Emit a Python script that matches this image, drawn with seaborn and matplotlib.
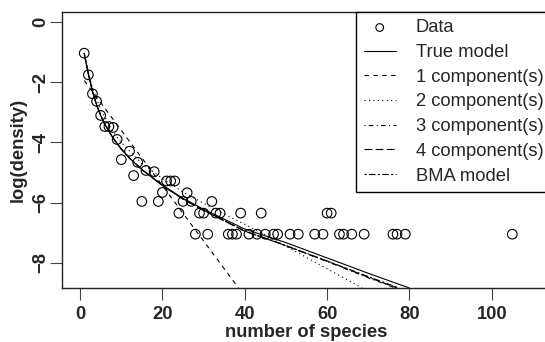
import matplotlib
matplotlib.use("Agg")
import matplotlib.pyplot as plt
import pandas as pd
import seaborn as sns

# observed data: number of species vs log(density)
species = [1, 2, 3, 4, 5, 6, 7, 8, 9, 10, 12, 13, 14, 15, 16, 18, 19, 20,
           21, 22, 23, 24, 25, 26, 27, 28, 29, 30, 31, 32, 33, 34, 36, 37,
           38, 39, 41, 43, 44, 45, 47, 48, 51, 53, 57, 59, 60, 61, 63, 64,
           66, 69, 76, 77, 79, 105]
log_density = [-1.03, -1.75, -2.38, -2.63, -3.10, -3.47, -3.47, -3.50, -3.90,
               -4.57, -4.29, -5.10, -4.66, -5.96, -4.93, -4.97, -5.96, -5.66,
               -5.28, -5.28, -5.28, -6.35, -5.96, -5.67, -5.96, -7.05, -6.35,
               -6.35, -7.05, -5.96, -6.35, -6.35, -7.05, -7.05, -7.05, -6.35,
               -7.05, -7.05, -6.35, -7.05, -7.05, -7.05, -7.05, -7.05, -7.05,
               -7.05, -6.35, -6.35, -7.05, -7.05, -7.05, -7.05, -7.05, -7.05,
               -7.05, -7.05]

# fitted curves
true_x = [1, 2, 3, 4, 5, 6, 8, 10, 12, 15, 20, 25, 30, 35, 40, 50, 60, 70, 80]
true_y = [-1.03, -1.72, -2.30, -2.75, -3.10, -3.40, -3.85, -4.22, -4.52, -4.90,
          -5.42, -5.86, -6.22, -6.55, -6.88, -7.33, -7.84, -8.35, -8.84]

comp1_x = [1, 38.5]
comp1_y = [-1.94, -8.84]

comp2_x = [1, 3, 5, 8, 10, 15, 20, 25, 30, 35, 40, 50, 60, 68.5]
comp2_y = [-1.10, -2.20, -2.90, -3.65, -4.00, -4.70, -5.20, -5.65, -6.02,
           -6.38, -6.72, -7.45, -8.20, -8.84]

comp3_x = [1, 2, 3, 4, 5, 6, 8, 10, 12, 15, 20, 25, 30, 40, 48.5, 60, 70, 76.5]
comp3_y = [-1.03, -1.72, -2.30, -2.75, -3.10, -3.40, -3.85, -4.22, -4.52, -4.90,
           -5.43, -5.88, -6.26, -6.95, -7.36, -7.96, -8.50, -8.84]

comp4_x = [1, 2, 3, 4, 5, 6, 8, 10, 12, 15, 20, 25, 30, 40, 48.5, 60, 70, 77]
comp4_y = [-1.03, -1.72, -2.30, -2.75, -3.10, -3.40, -3.85, -4.22, -4.52, -4.90,
           -5.43, -5.88, -6.26, -6.95, -7.36, -7.95, -8.48, -8.84]

bma_x = [1, 2, 3, 4, 5, 6, 8, 10, 12, 15, 20, 25, 30, 40, 48.5, 60, 70, 77.5]
bma_y = [-1.03, -1.72, -2.30, -2.75, -3.10, -3.40, -3.85, -4.22, -4.52, -4.90,
         -5.43, -5.88, -6.25, -6.94, -7.35, -7.94, -8.46, -8.84]

x_ticks = [0, 20, 40, 60, 80, 100]
y_ticks = [-8, -6, -4, -2, 0]

sns.set_style("ticks")
plt.rcParams["font.family"] = ["Liberation Sans", "DejaVu Sans"]
plt.rcParams["axes.unicode_minus"] = True

fig = plt.figure(figsize=(5.45, 3.42), dpi=100)
ax = fig.add_axes([62 / 545, 54 / 342, 489 / 545, 276 / 342])

obs = pd.DataFrame({"x": species, "y": log_density})
sns.scatterplot(data=obs, x="x", y="y", ax=ax, marker="o", s=48,
                facecolor="none", edgecolor="black", linewidth=0.8,
                label="Data", zorder=3)

curves = [
    (true_x, true_y, "True model", "-"),
    (comp1_x, comp1_y, "1 component(s)", (0, (4, 4))),
    (comp2_x, comp2_y, "2 component(s)", (0, (1, 3))),
    (comp3_x, comp3_y, "3 component(s)", (0, (1, 3, 4, 3))),
    (comp4_x, comp4_y, "4 component(s)", (0, (7, 3))),
    (bma_x, bma_y, "BMA model", (0, (2, 2, 6, 2))),
]
for cx, cy, name, ls in curves:
    sns.lineplot(x=cx, y=cy, ax=ax, color="black", linewidth=0.8,
                 linestyle=ls, label=name, sort=False, estimator=None)

ax.set_xlim(-4.4, 114.4)
ax.set_ylim(-8.84, 0.34)
ax.set_xticks(x_ticks)
ax.set_yticks(y_ticks)

for s in ax.spines.values():
    s.set_visible(True)
    s.set_color("#222222")
    s.set_linewidth(1.0)

ax.tick_params(axis="both", length=8.6, width=0.8, color="#444444",
               labelsize=13.2, direction="out")
ax.tick_params(axis="x", pad=4.3)
ax.tick_params(axis="y", pad=0.5, labelrotation=90)
for lab in ax.get_xticklabels() + ax.get_yticklabels():
    lab.set_fontweight("bold")
for lab in ax.get_yticklabels():
    lab.set_va("center")

ax.set_xlabel("number of species", fontsize=13.2, fontweight="bold", labelpad=1)
ax.set_ylabel("log(density)", fontsize=13.2, fontweight="bold", labelpad=4)

leg = ax.legend(loc="upper right", bbox_to_anchor=(1, 1), borderaxespad=0,
                fontsize=13.2, frameon=True, fancybox=False, framealpha=1,
                edgecolor="black", handlelength=1.75, handletextpad=1.1,
                labelspacing=0.42, borderpad=0.4, markerscale=0.8)
leg.get_frame().set_linewidth(1.0)

fig.savefig("out.png", dpi=100)
